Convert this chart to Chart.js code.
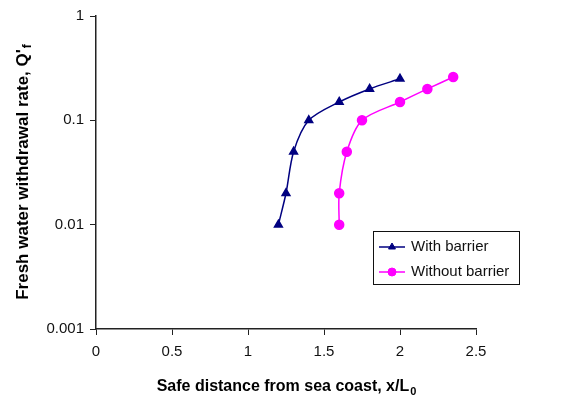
<!DOCTYPE html>
<html>
<head>
<meta charset="utf-8">
<title>Safe distance vs withdrawal rate</title>
<script src="https://cdn.jsdelivr.net/npm/chart.js@4"></script>
<style>
  html, body { margin: 0; padding: 0; background: #fff; }
  canvas { display: block; }
</style>
</head>
<body>
<canvas id="chart" width="563" height="397"></canvas>
<script>
// safe distance x/L0 against fresh water withdrawal rate Q'f
const withBarrierX = [1.2, 1.25, 1.3, 1.4, 1.6, 1.8, 2.0];
const withBarrierQ = [0.01, 0.02, 0.05, 0.1, 0.15, 0.2, 0.25];
const withoutBarrierX = [1.6, 1.6, 1.65, 1.75, 2.0, 2.18, 2.35];
const withoutBarrierQ = [0.01, 0.02, 0.05, 0.1, 0.15, 0.2, 0.26];
const seriesLabels = ['With barrier', 'Without barrier'];
const yTickValues = [0.001, 0.01, 0.1, 1];
const yTickLabels = ['0.001', '0.01', '0.1', '1'];
const xTickLabels = ['0', '0.5', '1', '1.5', '2', '2.5'];

const FONT = 'Liberation Sans, Arial, sans-serif';
const AXIS = '#222';

const toPoints = (xs, ys) => xs.map((x, i) => ({ x, y: ys[i] }));

// text with a trailing subscript, drawn centred on (cx, cy)
function subText(ctx, main, sub, cx, cy, size) {
  const subSize = Math.round(size * 0.7);
  ctx.font = `bold ${size}px ${FONT}`;
  const wMain = ctx.measureText(main).width;
  ctx.font = `bold ${subSize}px ${FONT}`;
  const wSub = ctx.measureText(sub).width;
  const start = cx - (wMain + wSub) / 2;
  ctx.textAlign = 'left';
  ctx.textBaseline = 'middle';
  ctx.font = `bold ${size}px ${FONT}`;
  ctx.fillText(main, start, cy);
  ctx.font = `bold ${subSize}px ${FONT}`;
  ctx.fillText(sub, start + wMain + 1, cy + size * 0.3);
}

const axisTitles = {
  id: 'axisTitles',
  afterDraw(chart) {
    const { ctx, chartArea } = chart;
    ctx.save();
    ctx.fillStyle = '#000';
    subText(ctx, 'Safe distance from sea coast, x/L', '0',
      (chartArea.left + chartArea.right) / 2, chartArea.bottom + 58, 16);
    ctx.translate(23, (chartArea.top + chartArea.bottom) / 2);
    ctx.rotate(-Math.PI / 2);
    subText(ctx, "Fresh water withdrawal rate, Q'", 'f', 0, 0, 17);
    ctx.restore();
  }
};

const boxLegend = {
  id: 'boxLegend',
  afterDraw(chart) {
    const { ctx, chartArea } = chart;
    const left = chartArea.right - 103;
    const top = chartArea.top + 215;
    const w = 146, h = 53;
    ctx.save();
    ctx.fillStyle = '#fff';
    ctx.fillRect(left, top, w, h);
    ctx.strokeStyle = '#111';
    ctx.lineWidth = 1;
    ctx.strokeRect(left + 0.5, top + 0.5, w, h);
    chart.data.datasets.forEach((ds, i) => {
      const y = top + 16 + i * 25;
      ctx.strokeStyle = ds.borderColor;
      ctx.fillStyle = ds.backgroundColor;
      ctx.lineWidth = 1.5;
      ctx.beginPath();
      ctx.moveTo(left + 6, y);
      ctx.lineTo(left + 32, y);
      ctx.stroke();
      ctx.lineWidth = 1;
      Chart.helpers.drawPoint(ctx, {
        pointStyle: ds.pointStyle, radius: ds.pointRadius - 0.5, borderWidth: 1
      }, left + 19, y);
      ctx.fillStyle = '#111';
      ctx.font = `15px ${FONT}`;
      ctx.textAlign = 'left';
      ctx.textBaseline = 'middle';
      ctx.fillText(ds.label, left + 38, y);
    });
    ctx.restore();
  }
};

new Chart(document.getElementById('chart'), {
  type: 'scatter',
  data: {
    datasets: [{
      label: seriesLabels[0],
      data: toPoints(withBarrierX, withBarrierQ),
      showLine: true,
      borderColor: '#000080',
      backgroundColor: '#000080',
      borderWidth: 1.5,
      pointStyle: 'triangle',
      pointRadius: 4.5,
      pointHoverRadius: 4.5,
      tension: 0.3,
    }, {
      label: seriesLabels[1],
      data: toPoints(withoutBarrierX, withoutBarrierQ),
      showLine: true,
      borderColor: '#ff00ff',
      backgroundColor: '#ff00ff',
      borderWidth: 1.5,
      pointStyle: 'circle',
      pointRadius: 4.5,
      pointHoverRadius: 4.5,
      tension: 0.3,
    }],
  },
  options: {
    responsive: false,
    animation: false,
    layout: { padding: { top: 16, right: 87, left: 0, bottom: 0 } },
    plugins: {
      legend: { display: false },
      tooltip: { enabled: false },
    },
    scales: {
      x: {
        type: 'linear',
        min: 0,
        max: 2.5,
        afterFit: (scale) => { scale.height = 68; },
        grid: { drawOnChartArea: false, tickLength: 6, color: AXIS },
        border: { color: AXIS, width: 1.5 },
        ticks: {
          stepSize: 0.5,
          padding: 8,
          color: '#111',
          font: { family: FONT, size: 15 },
          callback: (v, i) => xTickLabels[i],
        },
      },
      y: {
        type: 'logarithmic',
        min: 0.001,
        max: 1,
        afterFit: (scale) => { scale.width = 96; },
        afterBuildTicks: (scale) => {
          scale.ticks = yTickValues.map((value) => ({ value }));
        },
        grid: { drawOnChartArea: false, tickLength: 6, color: AXIS },
        border: { color: AXIS, width: 1.5 },
        ticks: {
          padding: 6,
          color: '#111',
          font: { family: FONT, size: 15 },
          callback: (v, i) => yTickLabels[i],
        },
      },
    },
  },
  plugins: [axisTitles, boxLegend],
});
</script>
</body>
</html>
